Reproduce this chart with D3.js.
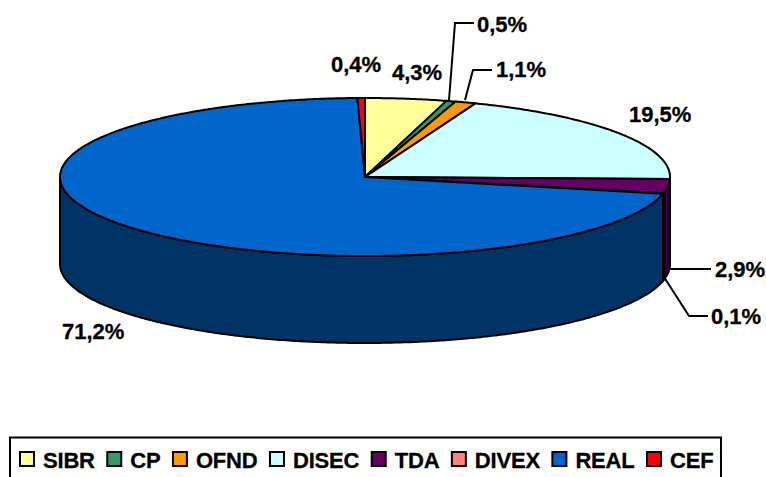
<!DOCTYPE html>
<html><head><meta charset="utf-8">
<style>html,body{margin:0;padding:0;background:#fff;overflow:hidden}svg{display:block}text{font-family:"Liberation Sans",Arial,sans-serif;font-weight:bold;font-size:22px;fill:#000;stroke:#000;stroke-width:0.3px}</style>
<script src="https://cdn.jsdelivr.net/npm/d3@7"></script>
</head><body><svg id="c" width="766" height="477"></svg>
<script>
const categories = ["SIBR","CP","OFND","DISEC","TDA","DIVEX","REAL","CEF"];
const values = [4.3,0.5,1.1,19.5,2.9,0.1,71.2,0.4];
const valueLabels = ["4,3%","0,5%","1,1%","19,5%","2,9%","0,1%","71,2%","0,4%"];
const topColors = ["#FFFF99","#339966","#FF9900","#CCFFFF","#660066","#FF8080","#0066CC","#FF0000"];
const sideColors = ["#80804D","#1A4D33","#804D00","#668080","#330033","#804040","#003366","#800000"];

// Layout (separate from the data)
const cx=365, cy=177, rx=305, ry=79, depth=87;
const labelXY = {SIBR:[392,80],CP:[477,32],OFND:[496,77],DISEC:[629,122],TDA:[715,277],DIVEX:[711,324],REAL:[62,339],CEF:[331,72]};
const leaders = {CP:[[449,100],[455,23],[474,23]],OFND:[[465,100],[473,70],[492,70]],TDA:[[670,269],[711,269]],DIVEX:[[664,277],[689,316],[708,316]]};

const svg=d3.select("#c");
const arcs=d3.pie().sort(null).value((d,i)=>values[i])(categories);
const xS=d3.scaleLinear().domain([-1,1]).range([cx-rx,cx+rx]);
const yS=d3.scaleLinear().domain([-1,1]).range([cy-ry,cy+ry]);
const px=a=>xS(Math.sin(a)), py=a=>yS(-Math.cos(a));
const arcPts=(a0,a1)=>{const n=Math.max(2,Math.ceil((a1-a0)/0.01));return d3.range(n+1).map(i=>{const a=a0+(a1-a0)*i/n;return [px(a),py(a)];});};
const line=d3.line();

// side wall (front half only)
const g=svg.append("g");
const H=Math.PI/2, T=3*Math.PI/2;
arcs.forEach((d,i)=>{
  const a0=Math.max(d.startAngle,H), a1=Math.min(d.endAngle,T);
  if(a1<=a0) return;
  const up=arcPts(a0,a1), down=up.map(p=>[p[0],p[1]+depth]).reverse();
  g.append("path").attr("d",line(up.concat(down))+"Z").attr("fill",sideColors[i])
   .attr("stroke","#000").attr("stroke-width",2).attr("stroke-linejoin","round");
});
// top slices
arcs.forEach((d,i)=>{
  const pts=[[cx,cy]].concat(arcPts(d.startAngle,d.endAngle));
  g.append("path").attr("d",line(pts)+"Z").attr("fill",topColors[i])
   .attr("stroke","#000").attr("stroke-width",2).attr("stroke-linejoin","round");
});
// leaders
Object.values(leaders).forEach(p=>svg.append("path").attr("d",line(p)).attr("fill","none").attr("stroke","#000").attr("stroke-width",2));
// labels
categories.forEach((c,i)=>svg.append("text").attr("x",labelXY[c][0]).attr("y",labelXY[c][1]).text(valueLabels[i]));

// legend
const lg=svg.append("g");
lg.append("rect").attr("x",10).attr("y",437.5).attr("width",711).attr("height",60).attr("fill","#fff").attr("stroke","#000").attr("stroke-width",2);
let x=20;
categories.forEach((c,i)=>{
  lg.append("rect").attr("x",x).attr("y",452).attr("width",14).attr("height",14).attr("fill",topColors[i]).attr("stroke","#000").attr("stroke-width",2);
  const t=lg.append("text").attr("x",x+23).attr("y",468).attr("letter-spacing",-0.2).text(c);
  x+=23+t.node().getComputedTextLength()+12.5;
});
</script></body></html>
